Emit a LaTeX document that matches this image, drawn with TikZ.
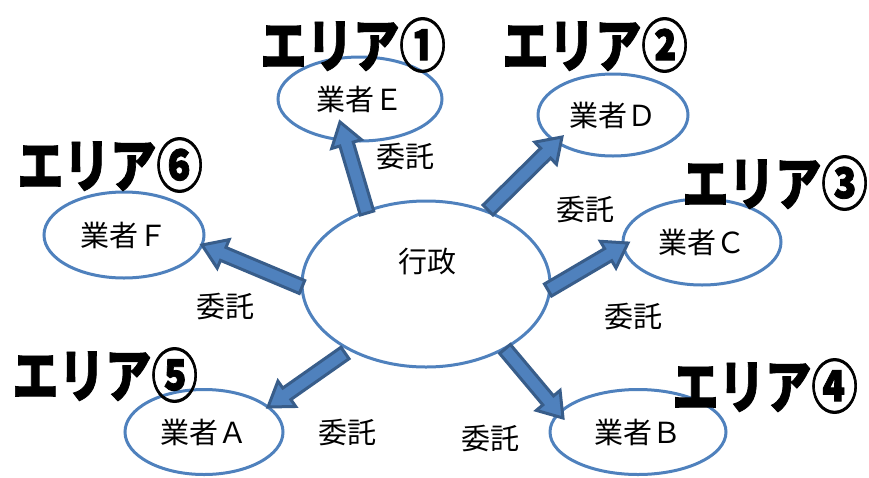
\documentclass[tikz,border=0pt]{standalone}
\usepackage{fontspec}
\newfontfamily\jp{Noto Sans CJK JP}[BoldFeatures={FakeBold=1.5}]
\usetikzlibrary{shapes.geometric,calc}
\definecolor{ellline}{HTML}{4F81BD}
\definecolor{arrfill}{HTML}{4F81BD}
\definecolor{arrline}{HTML}{385D8A}
\tikzset{
  ell/.style={ellipse, draw=ellline, line width=3pt, fill=white, inner sep=0pt,
    font=\jp\fontsize{29}{30}\selectfont},
  areatext/.style={font=\jp\bfseries\fontsize{58}{60}\selectfont, xscale=0.8, inner sep=0pt},
  itaku/.style={font=\jp\fontsize{29}{30}\selectfont, inner sep=0pt},
  blk/.style={fill=arrfill, draw=arrline, line width=3pt, line join=miter},
}
\newcommand\blkarrow[2]{%
  \path ($(#2)!23pt!(#1)$) coordinate (hb);
  \draw[blk] ($(#1)!7pt!90:(#2)$) -- ($(hb)!7pt!90:(#2)$) -- ($(hb)!15.5pt!90:(#2)$)
    -- (#2) -- ($(hb)!15.5pt!-90:(#2)$) -- ($(hb)!7pt!-90:(#2)$)
    -- ($(#1)!7pt!-90:(#2)$) -- cycle;
}
\begin{document}
\begin{tikzpicture}[x=1pt,y=-1pt]
\useasboundingbox (0,0) rectangle (869,477);
% central ellipse
\node[ell, minimum width=248pt, minimum height=166pt] (g) at (426,284) {};
\node[itaku] (gt) at (427,262) {行政};
% vendor ellipses
\node[ell, minimum width=164pt, minimum height=84pt] (vE) at (360,99) {業者Ｅ};
\node[ell, minimum width=150pt, minimum height=82pt] (vD) at (613,115) {業者Ｄ};
\node[ell, minimum width=158pt, minimum height=86pt] (vC) at (702,242) {業者Ｃ};
\node[ell, minimum width=160pt, minimum height=86pt] (vF) at (124,235) {業者Ｆ};
\node[ell, minimum width=158pt, minimum height=85pt] (vA) at (204,432) {業者Ａ};
\node[ell, minimum width=176pt, minimum height=85pt] (vB) at (638,432) {業者Ｂ};
% arrow end points
\coordinate (sE) at (367,213); \coordinate (tE) at (340,122);
\coordinate (sD) at (488,210); \coordinate (tD) at (562,137);
\coordinate (sC) at (548,290); \coordinate (tC) at (628,243);
\coordinate (sF) at (302,287); \coordinate (tF) at (202,245);
\coordinate (sA) at (345,353); \coordinate (tA) at (268,407);
\coordinate (sB) at (505,349); \coordinate (tB) at (563,418);
\blkarrow{sE}{tE}
\blkarrow{sD}{tD}
\blkarrow{sC}{tC}
\blkarrow{sF}{tF}
\blkarrow{sA}{tA}
\blkarrow{sB}{tB}
% labels
\node[itaku] (iE) at (405,157) {委託};
\node[itaku] (iD) at (585,210) {委託};
\node[itaku] (iC) at (633,317) {委託};
\node[itaku] (iF) at (225,307) {委託};
\node[itaku] (iA) at (347,432) {委託};
\node[itaku] (iB) at (490,438) {委託};
% area labels
\node[areatext] (a1) at (353,45) {エリア①};
\node[areatext] (a2) at (595,45) {エリア②};
\node[areatext] (a3) at (775,183) {エリア③};
\node[areatext] (a4) at (765,386) {エリア④};
\node[areatext] (a5) at (105,375) {エリア⑤};
\node[areatext] (a6) at (110,165) {エリア⑥};
\end{tikzpicture}
\end{document}
